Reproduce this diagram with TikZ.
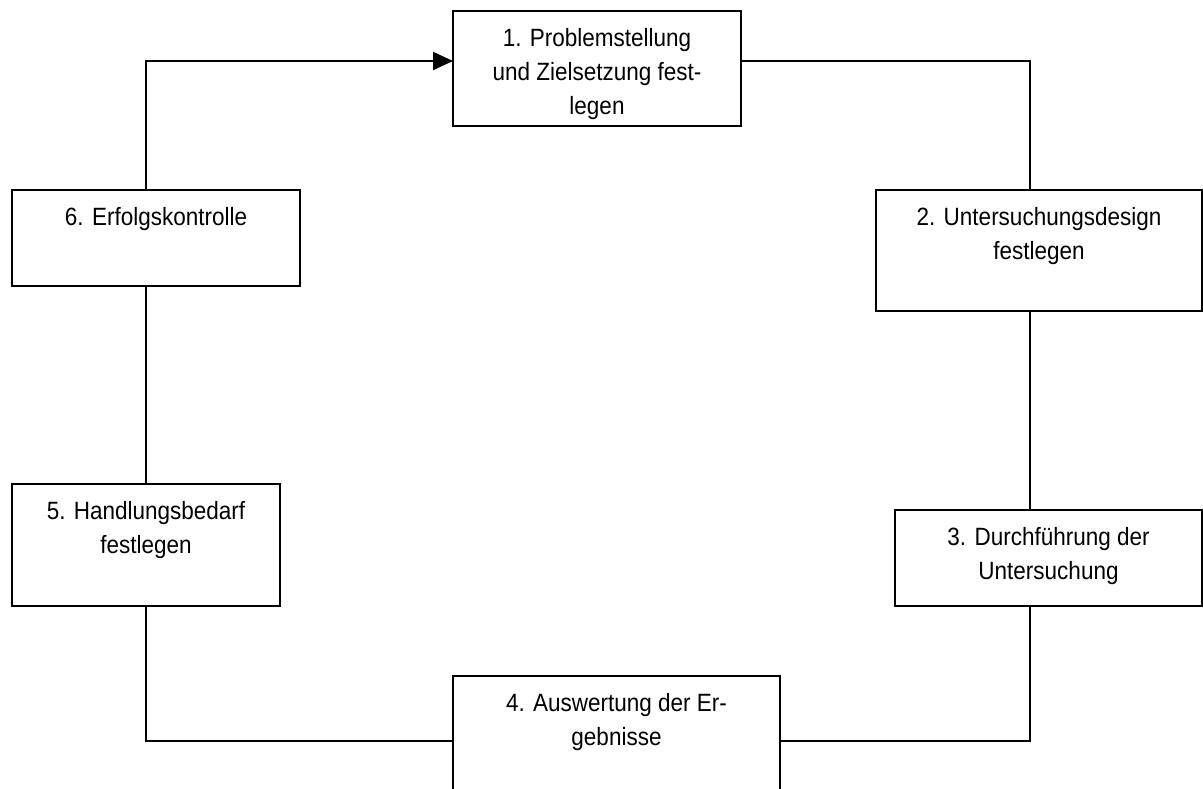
\documentclass[tikz,border=0pt]{standalone}
\usepackage{fontspec}
\setmainfont{Liberation Sans}[FakeStretch=0.9]
\usetikzlibrary{arrows.meta,positioning}

\begin{document}
\begin{tikzpicture}[x=0.5pt,y=-0.5pt,line width=1pt,>={Triangle[length=10pt,width=9pt]},
  phase box/.style={rectangle,draw,inner sep=0pt,outer sep=0pt},
  phase text/.style={align=center,inner sep=0pt,font=\fontsize{12.5}{17}\selectfont}]
  \useasboundingbox (0,0) rectangle (1203,788);

  \node[phase box,minimum width=144pt,minimum height=57.5pt] (1) at (597,68.5) {};
  \node[phase box,minimum width=163pt,minimum height=60.5pt] (2) at (1039,250.5) {};
  \node[phase box,minimum width=153.5pt,minimum height=48pt] (3) at (1048.5,558) {};
  \node[phase box,minimum width=163.5pt,minimum height=77pt] (4) at (616.5,753) {};
  \node[phase box,minimum width=134pt,minimum height=61pt] (5) at (146,545) {};
  \node[phase box,minimum width=144pt,minimum height=48pt] (6) at (156,238) {};

  \node[phase text,below=8pt of 1.north] (t1) {1. Problemstellung\\und Zielsetzung fest-\\legen};
  \node[phase text,below=8pt of 2.north] (t2) {2. Untersuchungsdesign\\festlegen};
  \node[phase text,below=8pt of 3.north] (t3) {3. Durchführung der\\Untersuchung};
  \node[phase text,below=8pt of 4.north] (t4) {4. Auswertung der Er-\\gebnisse};
  \node[phase text,below=8pt of 5.north] (t5) {5. Handlungsbedarf\\festlegen};
  \node[phase text,below=8pt of 6.north] (t6) {6. Erfolgskontrolle};

  \coordinate (a) at (146,61);
  \coordinate (b) at (1030,61);
  \coordinate (c) at (1030,741);
  \coordinate (d) at (146,741);

  \draw (1.east |- b) -- (b) -- (b |- 2.north);
  \draw (b |- 2.south) -- (b |- 3.north);
  \draw (b |- 3.south) -- (c) -- (c -| 4.east);
  \draw (4.west |- d) -- (d) -- (d |- 5.south);
  \draw (d |- 5.north) -- (d |- 6.south);
  \draw[->] (a |- 6.north) -- (a) -- (a -| 1.west);
\end{tikzpicture}
\end{document}
